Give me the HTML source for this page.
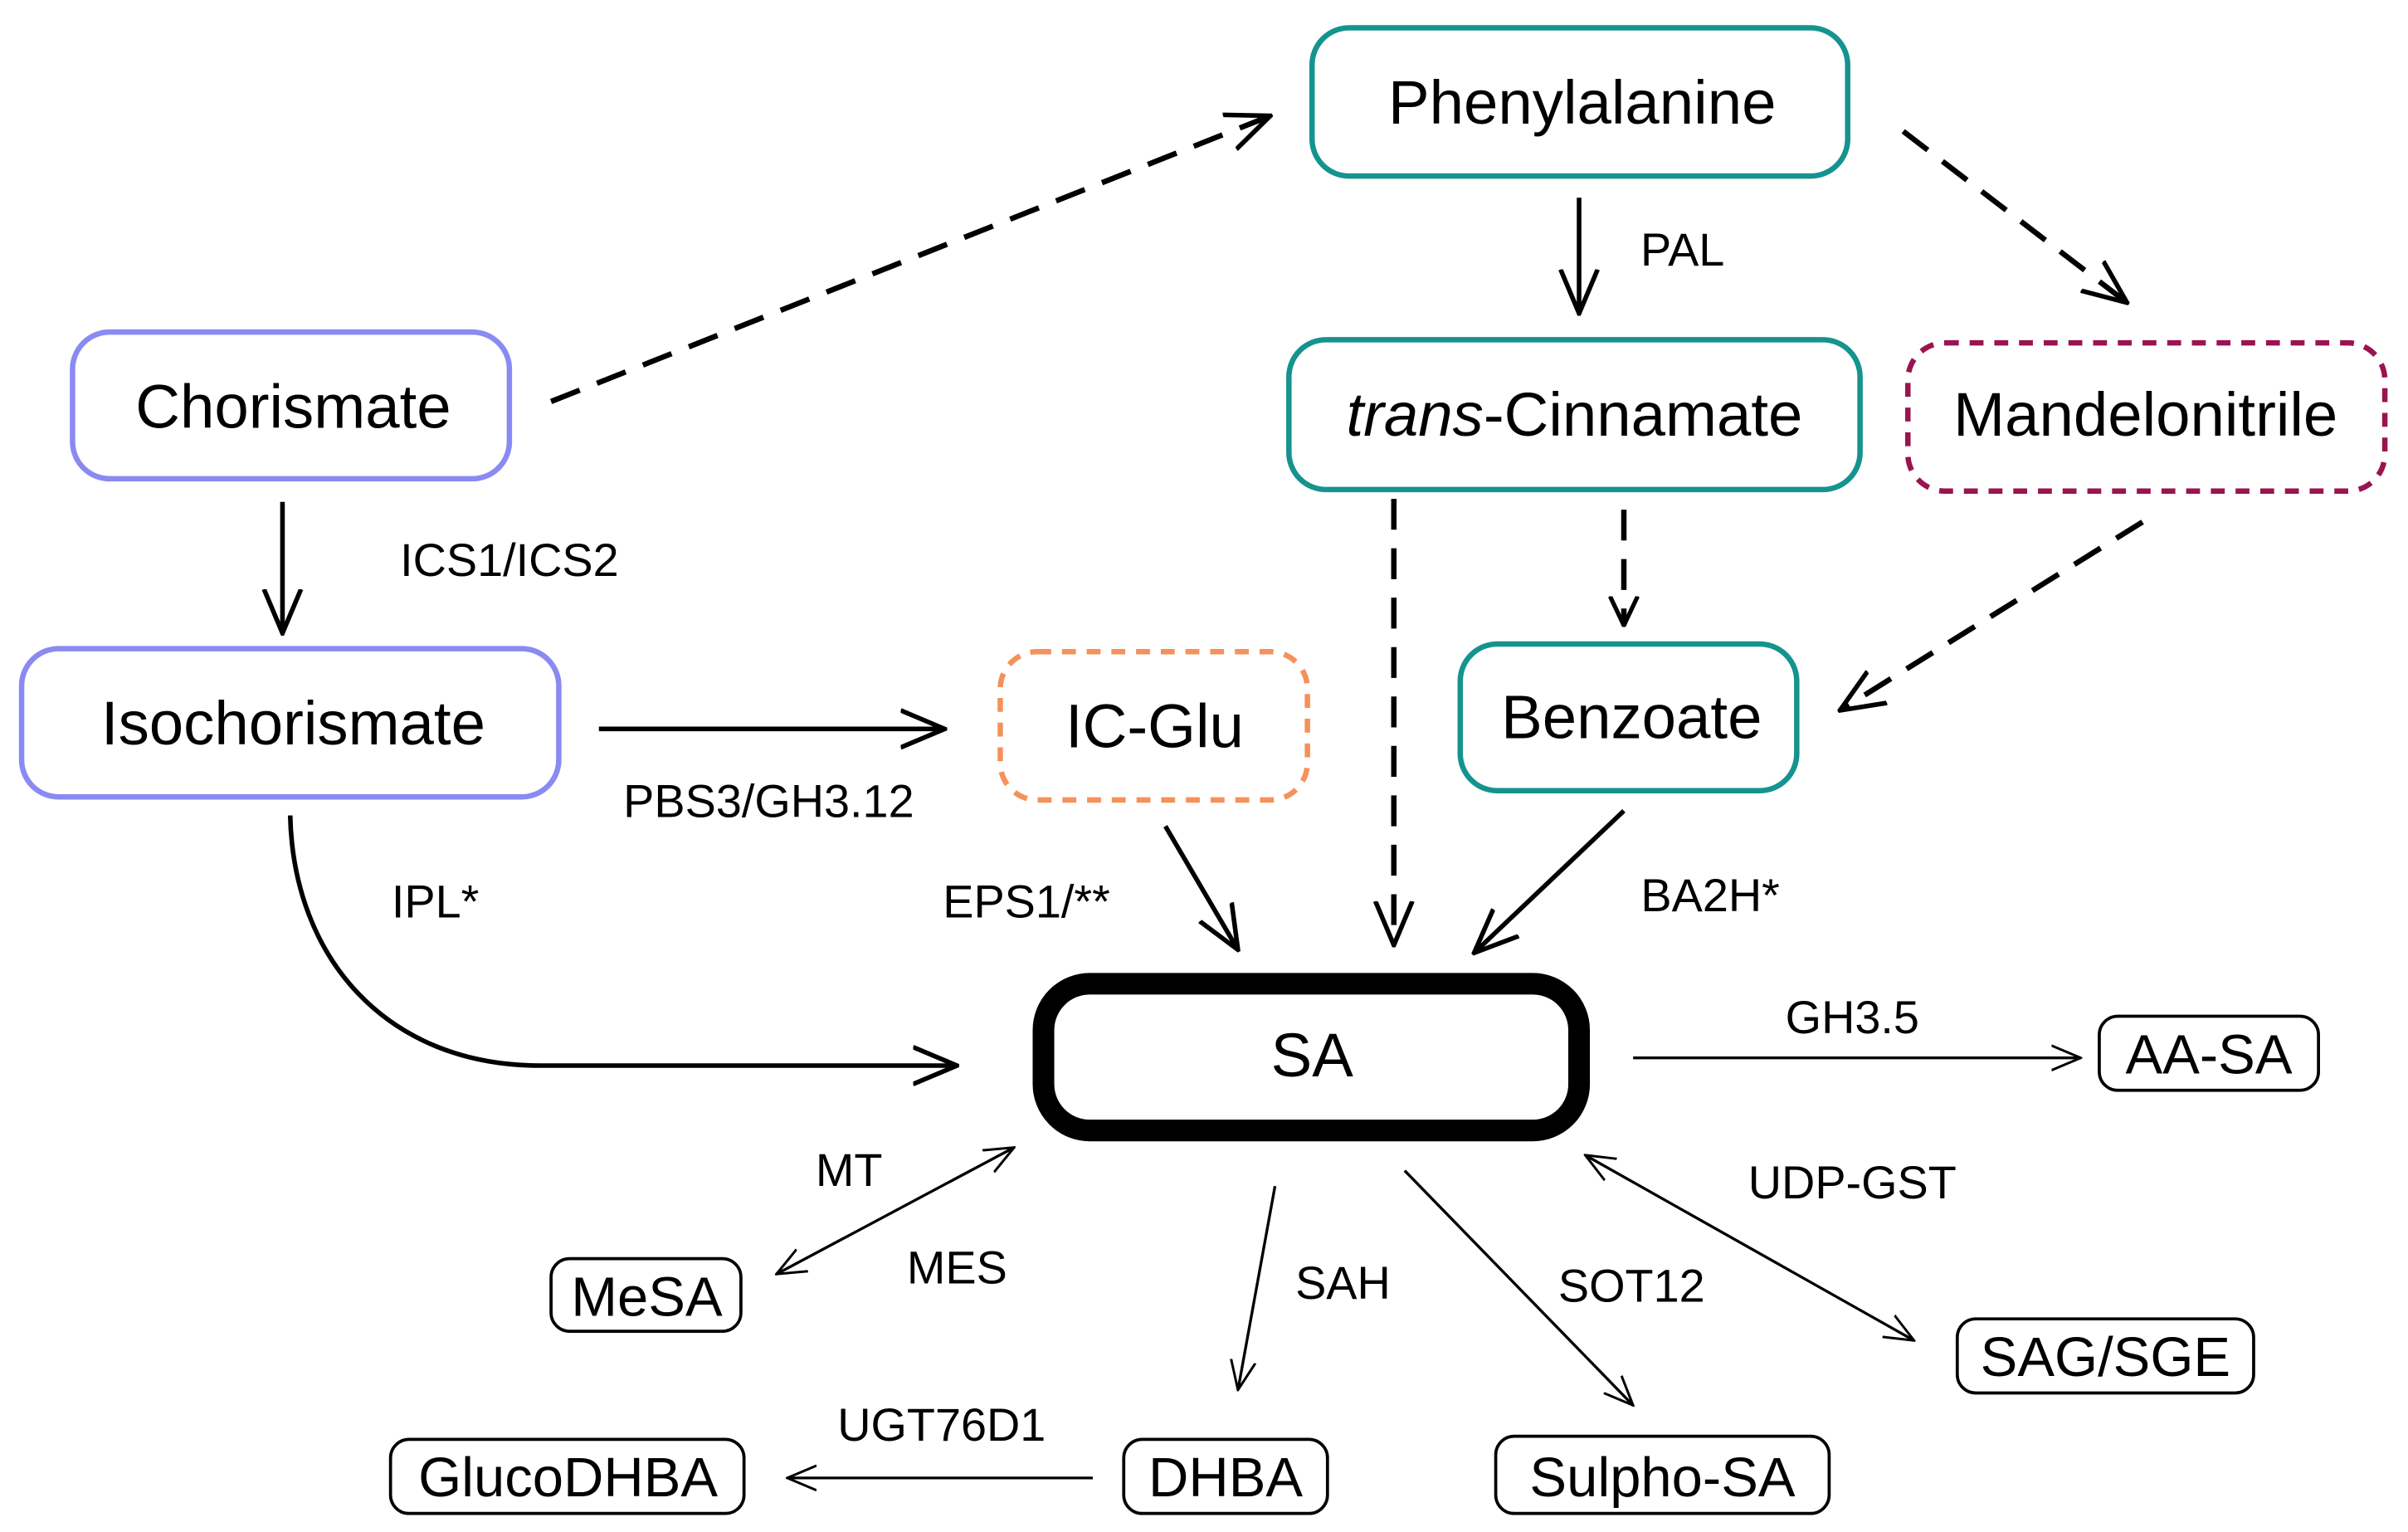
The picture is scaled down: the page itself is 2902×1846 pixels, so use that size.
<!DOCTYPE html>
<html><head><meta charset="utf-8"><style>
html,body{margin:0;padding:0;background:#fff;}
svg{display:block;}
text{font-family:"Liberation Sans",Arial,sans-serif;fill:#000;}
</style></head><body>
<svg width="2902" height="1846" viewBox="0 0 1560 992" preserveAspectRatio="none" xmlns="http://www.w3.org/2000/svg">
<defs>
<marker id="a" viewBox="0 0 20 20" refX="19" refY="10" markerWidth="20" markerHeight="20" markerUnits="userSpaceOnUse" orient="auto-start-reverse">
<path d="M0,1 L19,10 L0,19" fill="none" stroke="#000" stroke-width="2.8"/></marker>
<marker id="b" viewBox="0 0 20 20" refX="19" refY="10" markerWidth="30" markerHeight="30" markerUnits="userSpaceOnUse" orient="auto-start-reverse">
<path d="M0,2 L19,10 L0,18" fill="none" stroke="#000" stroke-width="2"/></marker>
<marker id="c" viewBox="0 0 20 20" refX="19" refY="10" markerWidth="20" markerHeight="20" markerUnits="userSpaceOnUse" orient="auto-start-reverse">
<path d="M0,2 L19,10 L0,18" fill="none" stroke="#000" stroke-width="1.6"/></marker>
</defs>

<!-- boxes -->
<g fill="#fff" stroke-width="3.5">
<rect x="850" y="18" width="347" height="96" rx="24" stroke="#15938f"/>
<rect x="47" y="215" width="283" height="95" rx="24" stroke="#8a8af2"/>
<rect x="835" y="220" width="370" height="97" rx="24" stroke="#15938f"/>
<rect x="1236" y="222" width="309" height="96" rx="24" stroke="#9a1450" stroke-dasharray="9,7"/>
<rect x="14" y="420" width="348" height="96" rx="24" stroke="#8a8af2"/>
<rect x="648" y="422" width="199" height="96" rx="24" stroke="#f5915a" stroke-dasharray="9,7"/>
<rect x="946" y="417" width="218" height="95" rx="24" stroke="#15938f"/>
</g>
<rect x="676" y="637" width="347" height="95" rx="30" fill="#fff" stroke="#000" stroke-width="14"/>
<g fill="#fff" stroke="#000" stroke-width="2">
<rect x="1360" y="658" width="142" height="48" rx="12"/>
<rect x="357" y="815" width="123" height="47" rx="12"/>
<rect x="1268" y="854" width="192" height="48" rx="12"/>
<rect x="253" y="932" width="229" height="48" rx="12"/>
<rect x="728" y="932" width="132" height="48" rx="12"/>
<rect x="969" y="930" width="216" height="50" rx="12"/>
</g>

<!-- node text -->
<g font-size="40" text-anchor="middle">
<text x="1025" y="80">Phenylalanine</text>
<text x="190" y="277">Chorismate</text>
<text x="1020" y="282"><tspan font-style="italic">trans</tspan>-Cinnamate</text>
<text x="1390" y="282">Mandelonitrile</text>
<text x="190" y="482">Isochorismate</text>
<text x="748" y="484">IC-Glu</text>
<text x="1057" y="478">Benzoate</text>
<text x="850" y="697">SA</text>
</g>
<g font-size="36" text-anchor="middle">
<text x="1431" y="695">AA-SA</text>
<text x="419" y="852">MeSA</text>
<text x="1364" y="891">SAG/SGE</text>
<text x="368" y="969">GlucoDHBA</text>
<text x="794" y="969">DHBA</text>
<text x="1077" y="969">Sulpho-SA</text>
</g>

<!-- edge labels -->
<g font-size="30" text-anchor="middle">
<text x="1090" y="172">PAL</text>
<text x="330" y="373">ICS1/ICS2</text>
<text x="498" y="529">PBS3/GH3.12</text>
<text x="282" y="594">IPL*</text>
<text x="665" y="594">EPS1/**</text>
<text x="1108" y="590">BA2H*</text>
<text x="1200" y="669">GH3.5</text>
<text x="550" y="768">MT</text>
<text x="620" y="831">MES</text>
<text x="1200" y="776">UDP-GST</text>
<text x="870" y="841">SAH</text>
<text x="1057" y="843">SOT12</text>
<text x="610" y="933">UGT76D1</text>
</g>

<!-- dashed arrows -->
<g stroke="#000" stroke-width="3.5" fill="none" stroke-dasharray="20,12">
<line x1="357" y1="260" x2="823" y2="75" marker-end="url(#b)"/>
<line x1="1233" y1="85" x2="1378" y2="196" marker-end="url(#b)"/>
<line x1="1052" y1="330" x2="1052" y2="405" marker-end="url(#a)"/>
<line x1="903" y1="323" x2="903" y2="612" marker-end="url(#b)"/>
<line x1="1388" y1="338" x2="1192" y2="460" marker-end="url(#b)"/>
</g>
<!-- solid thick arrows -->
<g stroke="#000" stroke-width="3" fill="none">
<line x1="1023" y1="128" x2="1023" y2="203" marker-end="url(#b)"/>
<line x1="183" y1="325" x2="183" y2="410" marker-end="url(#b)"/>
<line x1="388" y1="472" x2="612" y2="472" marker-end="url(#b)"/>
<line x1="755" y1="535" x2="802" y2="615" marker-end="url(#b)"/>
<line x1="1052" y1="525" x2="955" y2="617" marker-end="url(#b)"/>
<path d="M188,528 C190,620 250,690 350,690 L620,690" marker-end="url(#b)"/>
</g>
<!-- thin arrows -->
<g stroke="#000" stroke-width="1.8" fill="none">
<line x1="1058" y1="685" x2="1348" y2="685" marker-end="url(#c)"/>
<line x1="503" y1="825" x2="657" y2="743" marker-end="url(#c)" marker-start="url(#c)"/>
<line x1="826" y1="768" x2="802" y2="900" marker-end="url(#c)"/>
<line x1="910" y1="758" x2="1058" y2="910" marker-end="url(#c)"/>
<line x1="1027" y1="748" x2="1240" y2="868" marker-end="url(#c)" marker-start="url(#c)"/>
<line x1="708" y1="957" x2="510" y2="957" marker-end="url(#c)"/>
</g>
</svg>
</body></html>
